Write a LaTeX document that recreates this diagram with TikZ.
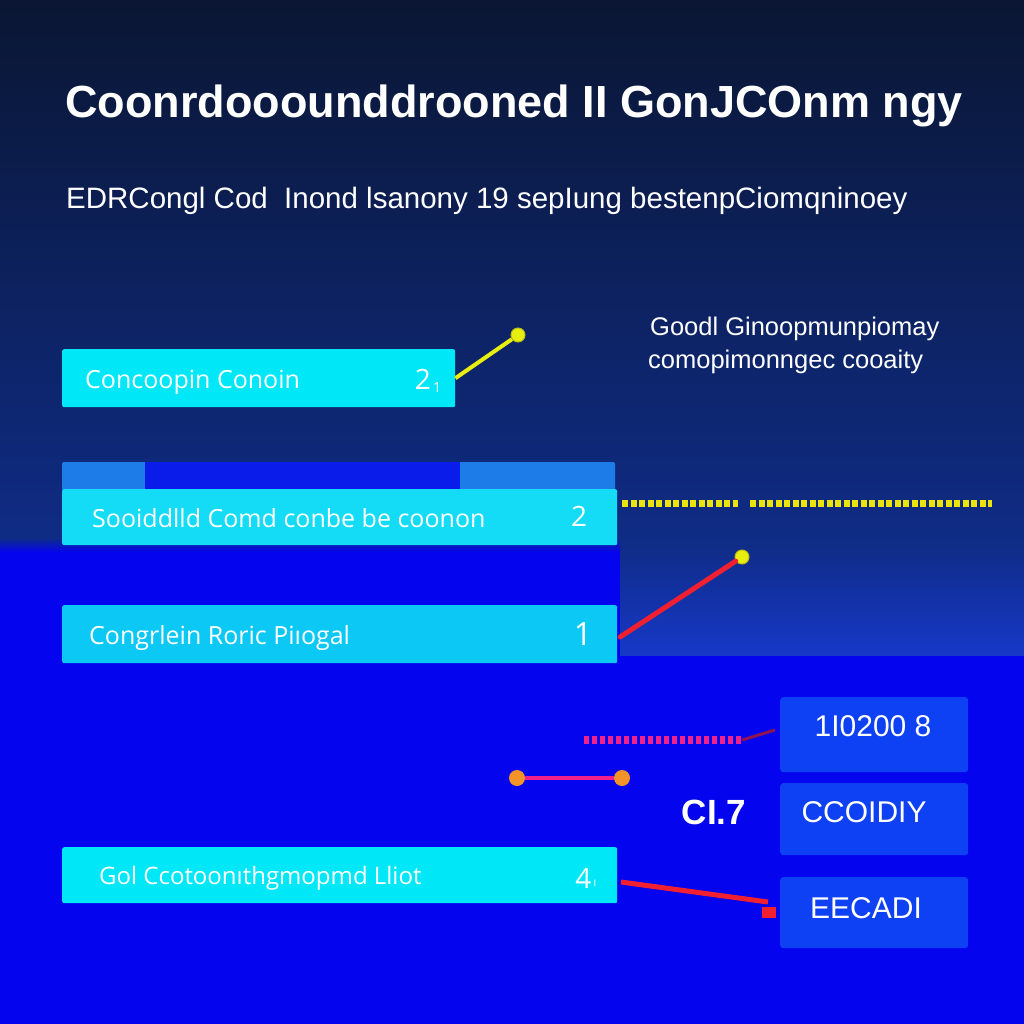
\documentclass[tikz,border=0pt]{standalone}
\usepackage{fontspec}
\setmainfont{Liberation Sans}
\newfontfamily\boxfont{Open Sans}
\definecolor{bgtop}{HTML}{0A1633}
\definecolor{bgmid}{HTML}{0F2C86}
\definecolor{bgblue}{HTML}{0404EE}
\definecolor{bgband}{HTML}{1638C8}
\definecolor{cyanA}{HTML}{00E8F8}
\definecolor{cyanB}{HTML}{14DCF6}
\definecolor{cyanC}{HTML}{0CC8F4}
\definecolor{tabL}{HTML}{1E7CE8}
\definecolor{tabD}{HTML}{0A1CEA}
\definecolor{rbox}{HTML}{0E40F4}
\definecolor{ylw}{HTML}{E8EE10}
\definecolor{redl}{HTML}{F02030}
\definecolor{mag}{HTML}{F0208C}
\definecolor{orng}{HTML}{F49428}
\tikzset{
  barbox/.style={rounded corners=2pt, inner sep=0pt, anchor=north west},
  bartext/.style={text=white, font=\boxfont\fontsize{25}{29}\selectfont, anchor=west, inner sep=0pt},
  numtext/.style={text=white, font=\boxfont\fontsize{28}{32}\selectfont, anchor=center},
  rightbox/.style={fill=rbox, rounded corners=3pt, minimum width=188pt, minimum height=75pt, inner sep=0pt},
  rbtext/.style={text=white, font=\fontsize{30}{34}\selectfont, inner sep=0pt},
  dotnode/.style={circle, inner sep=0pt, minimum size=#1},
}
\begin{document}
\begin{tikzpicture}[x=1pt,y=-1pt]
\useasboundingbox (0,0) rectangle (1024,1024);
% background
\shade[top color=bgtop, bottom color=bgmid] (0,0) rectangle (1024,545);
\fill[bgblue] (0,545) rectangle (1024,1024);
\shade[top color=bgmid, bottom color=bgband] (620,545) rectangle (1024,655);
\shade[top color=bgmid, bottom color=bgblue] (0,538) rectangle (620,552);

% title
\node[anchor=base west, text=white, font=\bfseries\fontsize{45}{50}\selectfont, inner sep=0pt] (title) at (65,118) {Coonrdooounddrooned II GonJCOnm ngy};
\node[anchor=base west, text=white, font=\fontsize{29.5}{34}\selectfont, inner sep=0pt] (subtitle) at (66,209) {EDRCongl Cod\ \ Inond lsanony 19 sepIung bestenpCiomqninoey};

% right note
\node[anchor=base west, text=white, font=\fontsize{25.5}{29}\selectfont, inner sep=0pt] (note1) at (650,335) {Goodl Ginoopmunpiomay};
\node[anchor=base west, text=white, font=\fontsize{25.5}{29}\selectfont, inner sep=0pt] (note2) at (648,368) {comopimonngec cooaity};

% box 1
\node[barbox, fill=cyanA, minimum width=393pt, minimum height=58pt] (b1) at (62,349) {};
\node[bartext] (b1t) at (85,382) {Concoopin Conoin};
\node[numtext] (b1n) at (428,381) {2\raisebox{-3pt}{\fontsize{14}{15}\selectfont\,1}};
\node[dotnode=14pt, fill=ylw, draw=ylw!80!black, line width=1pt] (y1) at (518,335) {};
\draw[ylw, line width=4pt] (b1.east) -- (y1);

% box 2 with tab
\fill[tabL, rounded corners=2pt] (62,462) rectangle (615,492);
\fill[tabD] (145,462) rectangle (460,490);
\node[barbox, fill=cyanB, minimum width=555pt, minimum height=56pt] (b2) at (62,489) {};
\node[bartext] (b2t) at (92,518) {Sooiddlld Comd conbe be coonon};
\node[numtext] (b2n) at (579,516) {2};
\coordinate (d1a) at (622,503);
\coordinate (d1b) at (738,503);
\coordinate (d2a) at (750,503);
\coordinate (d2b) at (992,503);
\draw[ylw!90!orange, line width=7pt, dash pattern=on 6pt off 2.5pt] (d1a) -- (d1b);
\draw[ylw!90!orange, line width=7pt, dash pattern=on 6pt off 2.5pt] (d2a) -- (d2b);

% box 3
\node[barbox, fill=cyanC, minimum width=555pt, minimum height=58pt] (b3) at (62,605) {};
\node[bartext] (b3t) at (89,638) {Congrlein Roric Piıogal};
\node[numtext, font=\boxfont\fontsize{32}{36}\selectfont] (b3n) at (583,634) {1};
\node[dotnode=14pt, fill=ylw, draw=ylw!80!black, line width=1pt] (y2) at (742,557) {};
\draw[redl, line width=5pt, line cap=round] (620,637) -- (y2);

% right boxes
\node[rightbox, anchor=north west] (rA) at (780,697) {};
\node[rbtext, anchor=base] (rAt) at (873,736) {1I0200 8};
\node[rightbox, anchor=north west, minimum height=72pt] (rB) at (780,783) {};
\node[rbtext, anchor=base] (rBt) at (864,822) {CCOIDIY};
\node[rightbox, anchor=north west, minimum height=71pt] (rC) at (780,877) {};
\node[rbtext, anchor=base] (rCt) at (866,918) {EECADI};

% magenta dotted connector
\coordinate (m1) at (584,740);
\coordinate (m2) at (742,740);
\draw[mag, line width=8pt, dash pattern=on 5pt off 3pt] (m1) -- (m2);
\draw[mag!60!black, line width=3pt] (m2) -- (775,730);

% orange dots
\node[dotnode=16pt, fill=orng] (o1) at (517,778) {};
\node[dotnode=16pt, fill=orng] (o2) at (622,778) {};
\draw[mag, line width=4pt] (o1) -- (o2);

% C1.7 label
\node[anchor=base, text=white, font=\bfseries\fontsize{35}{40}\selectfont, inner sep=0pt] (c17) at (714,824) {CI.7};

% box 4
\node[barbox, fill=cyanA, minimum width=555pt, minimum height=56pt] (b4) at (62,847) {};
\node[bartext, font=\boxfont\fontsize{24}{28}\selectfont] (b4t) at (99,878) {Gol Ccotoonıthgmopmd Lliot};
\node[numtext] (b4n) at (586,878) {4\raisebox{2pt}{\fontsize{12}{13}\selectfont\,ı}};
\coordinate (r4) at (768,902);
\draw[redl, line width=5pt] (621,882) -- (r4);
\fill[redl] (762,907) rectangle (776,918);
\end{tikzpicture}
\end{document}
